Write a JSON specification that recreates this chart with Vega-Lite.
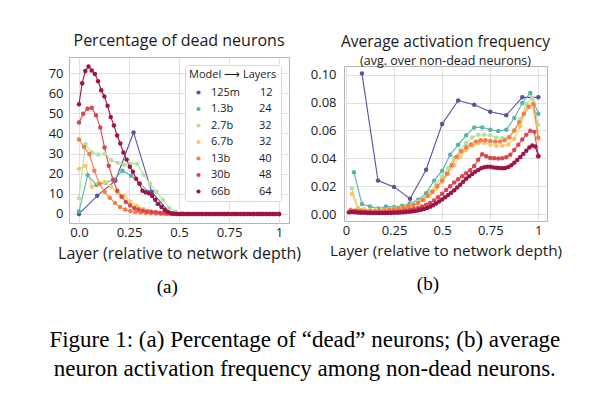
{
  "$schema": "https://vega.github.io/schema/vega-lite/v6.json",
  "background": "white",
  "padding": {"left": 47, "top": 31, "right": 5, "bottom": 5},
  "config": {
    "font": "Open Sans",
    "view": {"stroke": "#b4b4b4", "strokeWidth": 1},
    "axis": {"grid": true, "gridColor": "#e0e0e0", "gridWidth": 1, "domain": false, "ticks": false, "labelFontSize": 13, "labelColor": "#1a1a1a", "titleFontSize": 16, "titleFontWeight": "normal", "titleColor": "#1a1a1a"},
    "axisX": {"labelPadding": 3, "titlePadding": 6},
    "axisY": {"labelPadding": 6}
  },
  "title": {"text": ["Figure 1: (a) Percentage of “dead” neurons; (b) average", "neuron activation frequency among non-dead neurons."], "orient": "bottom", "anchor": "middle", "font": "Liberation Serif", "fontSize": 23, "fontWeight": "normal", "lineHeight": 29, "offset": 32, "color": "black"},
  "resolve": {"scale": {"color": "independent"}, "legend": {"color": "independent"}},
  "datasets": {
    "dead": [
      {"model":"125m","x":0,"y":0},{"model":"125m","x":0.0909,"y":9},{"model":"125m","x":0.1818,"y":16.5},{"model":"125m","x":0.2727,"y":40.5},{"model":"125m","x":0.3636,"y":11},{"model":"125m","x":0.4545,"y":0.5},{"model":"125m","x":0.5455,"y":0},{"model":"125m","x":0.6364,"y":0},{"model":"125m","x":0.7273,"y":0},{"model":"125m","x":0.8182,"y":0},{"model":"125m","x":0.9091,"y":0},{"model":"125m","x":1,"y":0},
      {"model":"1.3b","x":0,"y":1.2},{"model":"1.3b","x":0.0435,"y":19.3},{"model":"1.3b","x":0.087,"y":14.4},{"model":"1.3b","x":0.1304,"y":15.5},{"model":"1.3b","x":0.1739,"y":17},{"model":"1.3b","x":0.2174,"y":21.5},{"model":"1.3b","x":0.2609,"y":19},{"model":"1.3b","x":0.3043,"y":15.3},{"model":"1.3b","x":0.3478,"y":11},{"model":"1.3b","x":0.3913,"y":5},{"model":"1.3b","x":0.4348,"y":1.3},{"model":"1.3b","x":0.4783,"y":0.2},{"model":"1.3b","x":0.5217,"y":0},{"model":"1.3b","x":0.5652,"y":0},{"model":"1.3b","x":0.6087,"y":0},{"model":"1.3b","x":0.6522,"y":0},{"model":"1.3b","x":0.6957,"y":0},{"model":"1.3b","x":0.7391,"y":0},{"model":"1.3b","x":0.7826,"y":0},{"model":"1.3b","x":0.8261,"y":0},{"model":"1.3b","x":0.8696,"y":0},{"model":"1.3b","x":0.913,"y":0},{"model":"1.3b","x":0.9565,"y":0},{"model":"1.3b","x":1,"y":0},
      {"model":"2.7b","x":0,"y":7.8},{"model":"2.7b","x":0.0323,"y":34.7},{"model":"2.7b","x":0.0645,"y":30.5},{"model":"2.7b","x":0.0968,"y":29.5},{"model":"2.7b","x":0.129,"y":29.8},{"model":"2.7b","x":0.1613,"y":26.7},{"model":"2.7b","x":0.1935,"y":25.5},{"model":"2.7b","x":0.2258,"y":24.5},{"model":"2.7b","x":0.2581,"y":25},{"model":"2.7b","x":0.2903,"y":25},{"model":"2.7b","x":0.3226,"y":19.5},{"model":"2.7b","x":0.3548,"y":15},{"model":"2.7b","x":0.3871,"y":11},{"model":"2.7b","x":0.4194,"y":7},{"model":"2.7b","x":0.4516,"y":3},{"model":"2.7b","x":0.4839,"y":1},{"model":"2.7b","x":0.5161,"y":0.2},{"model":"2.7b","x":0.5484,"y":0},{"model":"2.7b","x":0.5806,"y":0},{"model":"2.7b","x":0.6129,"y":0},{"model":"2.7b","x":0.6452,"y":0},{"model":"2.7b","x":0.6774,"y":0},{"model":"2.7b","x":0.7097,"y":0},{"model":"2.7b","x":0.7419,"y":0},{"model":"2.7b","x":0.7742,"y":0},{"model":"2.7b","x":0.8065,"y":0},{"model":"2.7b","x":0.8387,"y":0},{"model":"2.7b","x":0.871,"y":0},{"model":"2.7b","x":0.9032,"y":0},{"model":"2.7b","x":0.9355,"y":0},{"model":"2.7b","x":0.9677,"y":0},{"model":"2.7b","x":1,"y":0},
      {"model":"6.7b","x":0,"y":22.4},{"model":"6.7b","x":0.0323,"y":23.8},{"model":"6.7b","x":0.0645,"y":13.5},{"model":"6.7b","x":0.0968,"y":15.3},{"model":"6.7b","x":0.129,"y":15.7},{"model":"6.7b","x":0.1613,"y":13.5},{"model":"6.7b","x":0.1935,"y":10.5},{"model":"6.7b","x":0.2258,"y":9},{"model":"6.7b","x":0.2581,"y":6},{"model":"6.7b","x":0.2903,"y":4},{"model":"6.7b","x":0.3226,"y":2.5},{"model":"6.7b","x":0.3548,"y":1.5},{"model":"6.7b","x":0.3871,"y":1},{"model":"6.7b","x":0.4194,"y":0.5},{"model":"6.7b","x":0.4516,"y":0.3},{"model":"6.7b","x":0.4839,"y":0.1},{"model":"6.7b","x":0.5161,"y":0},{"model":"6.7b","x":0.5484,"y":0},{"model":"6.7b","x":0.5806,"y":0},{"model":"6.7b","x":0.6129,"y":0},{"model":"6.7b","x":0.6452,"y":0},{"model":"6.7b","x":0.6774,"y":0},{"model":"6.7b","x":0.7097,"y":0},{"model":"6.7b","x":0.7419,"y":0},{"model":"6.7b","x":0.7742,"y":0},{"model":"6.7b","x":0.8065,"y":0},{"model":"6.7b","x":0.8387,"y":0},{"model":"6.7b","x":0.871,"y":0},{"model":"6.7b","x":0.9032,"y":0},{"model":"6.7b","x":0.9355,"y":0},{"model":"6.7b","x":0.9677,"y":0},{"model":"6.7b","x":1,"y":0},
      {"model":"13b","x":0,"y":37},{"model":"13b","x":0.0256,"y":33.3},{"model":"13b","x":0.0513,"y":29.8},{"model":"13b","x":0.0769,"y":21.5},{"model":"13b","x":0.1026,"y":15},{"model":"13b","x":0.1282,"y":11},{"model":"13b","x":0.1538,"y":8},{"model":"13b","x":0.1795,"y":5.5},{"model":"13b","x":0.2051,"y":3.5},{"model":"13b","x":0.2308,"y":2.2},{"model":"13b","x":0.2564,"y":1.5},{"model":"13b","x":0.2821,"y":1},{"model":"13b","x":0.3077,"y":0.7},{"model":"13b","x":0.3333,"y":0.5},{"model":"13b","x":0.359,"y":0.3},{"model":"13b","x":0.3846,"y":0.2},{"model":"13b","x":0.4103,"y":0.1},{"model":"13b","x":0.4359,"y":0},{"model":"13b","x":0.4615,"y":0},{"model":"13b","x":0.4872,"y":0},{"model":"13b","x":0.5128,"y":0},{"model":"13b","x":0.5385,"y":0},{"model":"13b","x":0.5641,"y":0},{"model":"13b","x":0.5897,"y":0},{"model":"13b","x":0.6154,"y":0},{"model":"13b","x":0.641,"y":0},{"model":"13b","x":0.6667,"y":0},{"model":"13b","x":0.6923,"y":0},{"model":"13b","x":0.7179,"y":0},{"model":"13b","x":0.7436,"y":0},{"model":"13b","x":0.7692,"y":0},{"model":"13b","x":0.7949,"y":0},{"model":"13b","x":0.8205,"y":0},{"model":"13b","x":0.8462,"y":0},{"model":"13b","x":0.8718,"y":0},{"model":"13b","x":0.8974,"y":0},{"model":"13b","x":0.9231,"y":0},{"model":"13b","x":0.9487,"y":0},{"model":"13b","x":0.9744,"y":0},{"model":"13b","x":1,"y":0},
      {"model":"30b","x":0,"y":45.4},{"model":"30b","x":0.0213,"y":49.8},{"model":"30b","x":0.0426,"y":52.3},{"model":"30b","x":0.0638,"y":52.8},{"model":"30b","x":0.0851,"y":49},{"model":"30b","x":0.1064,"y":43},{"model":"30b","x":0.1277,"y":33},{"model":"30b","x":0.1489,"y":24},{"model":"30b","x":0.1702,"y":17},{"model":"30b","x":0.1915,"y":11.5},{"model":"30b","x":0.2128,"y":8.5},{"model":"30b","x":0.234,"y":6},{"model":"30b","x":0.2553,"y":4.2},{"model":"30b","x":0.2766,"y":3},{"model":"30b","x":0.2979,"y":2.2},{"model":"30b","x":0.3191,"y":1.6},{"model":"30b","x":0.3404,"y":1.2},{"model":"30b","x":0.3617,"y":1},{"model":"30b","x":0.383,"y":0.8},{"model":"30b","x":0.4043,"y":0.5},{"model":"30b","x":0.4255,"y":0.3},{"model":"30b","x":0.4468,"y":0.2},{"model":"30b","x":0.4681,"y":0.1},{"model":"30b","x":0.4894,"y":0},{"model":"30b","x":0.5106,"y":0},{"model":"30b","x":0.5319,"y":0},{"model":"30b","x":0.5532,"y":0},{"model":"30b","x":0.5745,"y":0},{"model":"30b","x":0.5957,"y":0},{"model":"30b","x":0.617,"y":0},{"model":"30b","x":0.6383,"y":0},{"model":"30b","x":0.6596,"y":0},{"model":"30b","x":0.6809,"y":0},{"model":"30b","x":0.7021,"y":0},{"model":"30b","x":0.7234,"y":0},{"model":"30b","x":0.7447,"y":0},{"model":"30b","x":0.766,"y":0},{"model":"30b","x":0.7872,"y":0},{"model":"30b","x":0.8085,"y":0},{"model":"30b","x":0.8298,"y":0},{"model":"30b","x":0.8511,"y":0},{"model":"30b","x":0.8723,"y":0},{"model":"30b","x":0.8936,"y":0},{"model":"30b","x":0.9149,"y":0},{"model":"30b","x":0.9362,"y":0},{"model":"30b","x":0.9574,"y":0},{"model":"30b","x":0.9787,"y":0},{"model":"30b","x":1,"y":0},
      {"model":"66b","x":0,"y":54.5},{"model":"66b","x":0.0159,"y":65},{"model":"66b","x":0.0317,"y":71},{"model":"66b","x":0.0476,"y":73.3},{"model":"66b","x":0.0635,"y":71.3},{"model":"66b","x":0.0794,"y":69.6},{"model":"66b","x":0.0952,"y":66},{"model":"66b","x":0.1111,"y":61.5},{"model":"66b","x":0.127,"y":58.4},{"model":"66b","x":0.1429,"y":53.8},{"model":"66b","x":0.1587,"y":48.2},{"model":"66b","x":0.1746,"y":44},{"model":"66b","x":0.1905,"y":39},{"model":"66b","x":0.2063,"y":35},{"model":"66b","x":0.2222,"y":30.5},{"model":"66b","x":0.2381,"y":27},{"model":"66b","x":0.254,"y":23.5},{"model":"66b","x":0.2698,"y":21},{"model":"66b","x":0.2857,"y":17.5},{"model":"66b","x":0.3016,"y":15},{"model":"66b","x":0.3175,"y":11.5},{"model":"66b","x":0.3333,"y":10.8},{"model":"66b","x":0.3492,"y":10.3},{"model":"66b","x":0.3651,"y":9},{"model":"66b","x":0.381,"y":7},{"model":"66b","x":0.3968,"y":5},{"model":"66b","x":0.4127,"y":3.5},{"model":"66b","x":0.4286,"y":2},{"model":"66b","x":0.4444,"y":1},{"model":"66b","x":0.4603,"y":0.4},{"model":"66b","x":0.4762,"y":0.1},{"model":"66b","x":0.4921,"y":0},{"model":"66b","x":0.5079,"y":0},{"model":"66b","x":0.5238,"y":0},{"model":"66b","x":0.5397,"y":0},{"model":"66b","x":0.5556,"y":0},{"model":"66b","x":0.5714,"y":0},{"model":"66b","x":0.5873,"y":0},{"model":"66b","x":0.6032,"y":0},{"model":"66b","x":0.619,"y":0},{"model":"66b","x":0.6349,"y":0},{"model":"66b","x":0.6508,"y":0},{"model":"66b","x":0.6667,"y":0},{"model":"66b","x":0.6825,"y":0},{"model":"66b","x":0.6984,"y":0},{"model":"66b","x":0.7143,"y":0},{"model":"66b","x":0.7302,"y":0},{"model":"66b","x":0.746,"y":0},{"model":"66b","x":0.7619,"y":0},{"model":"66b","x":0.7778,"y":0},{"model":"66b","x":0.7937,"y":0},{"model":"66b","x":0.8095,"y":0},{"model":"66b","x":0.8254,"y":0},{"model":"66b","x":0.8413,"y":0},{"model":"66b","x":0.8571,"y":0},{"model":"66b","x":0.873,"y":0},{"model":"66b","x":0.8889,"y":0},{"model":"66b","x":0.9048,"y":0},{"model":"66b","x":0.9206,"y":0},{"model":"66b","x":0.9365,"y":0},{"model":"66b","x":0.9524,"y":0},{"model":"66b","x":0.9683,"y":0},{"model":"66b","x":0.9841,"y":0},{"model":"66b","x":1,"y":0}
    ],
    "freq": [
      {"model":"125m","x":0.0833,"y":0.101},{"model":"125m","x":0.1667,"y":0.024},{"model":"125m","x":0.25,"y":0.0195},{"model":"125m","x":0.3333,"y":0.011},{"model":"125m","x":0.4167,"y":0.0318},{"model":"125m","x":0.5,"y":0.0646},{"model":"125m","x":0.5833,"y":0.0815},{"model":"125m","x":0.6667,"y":0.0785},{"model":"125m","x":0.75,"y":0.0735},{"model":"125m","x":0.8333,"y":0.071},{"model":"125m","x":0.9167,"y":0.0838},{"model":"125m","x":1,"y":0.0838},
      {"model":"1.3b","x":0.0417,"y":0.03},{"model":"1.3b","x":0.0833,"y":0.0072},{"model":"1.3b","x":0.125,"y":0.0055},{"model":"1.3b","x":0.1667,"y":0.004},{"model":"1.3b","x":0.2083,"y":0.0055},{"model":"1.3b","x":0.25,"y":0.005},{"model":"1.3b","x":0.2917,"y":0.006},{"model":"1.3b","x":0.3333,"y":0.0077},{"model":"1.3b","x":0.375,"y":0.0103},{"model":"1.3b","x":0.4167,"y":0.015},{"model":"1.3b","x":0.4583,"y":0.024},{"model":"1.3b","x":0.5,"y":0.031},{"model":"1.3b","x":0.5417,"y":0.0426},{"model":"1.3b","x":0.5833,"y":0.0497},{"model":"1.3b","x":0.625,"y":0.0565},{"model":"1.3b","x":0.6667,"y":0.0622},{"model":"1.3b","x":0.7083,"y":0.0622},{"model":"1.3b","x":0.75,"y":0.0605},{"model":"1.3b","x":0.7917,"y":0.0597},{"model":"1.3b","x":0.8333,"y":0.0605},{"model":"1.3b","x":0.875,"y":0.069},{"model":"1.3b","x":0.9167,"y":0.0797},{"model":"1.3b","x":0.9583,"y":0.0869},{"model":"1.3b","x":1,"y":0.072},
      {"model":"2.7b","x":0.0313,"y":0.0185},{"model":"2.7b","x":0.0625,"y":0.0045},{"model":"2.7b","x":0.0938,"y":0.0035},{"model":"2.7b","x":0.125,"y":0.003},{"model":"2.7b","x":0.1563,"y":0.003},{"model":"2.7b","x":0.1875,"y":0.003},{"model":"2.7b","x":0.2188,"y":0.0035},{"model":"2.7b","x":0.25,"y":0.004},{"model":"2.7b","x":0.2813,"y":0.0045},{"model":"2.7b","x":0.3125,"y":0.0055},{"model":"2.7b","x":0.3438,"y":0.007},{"model":"2.7b","x":0.375,"y":0.009},{"model":"2.7b","x":0.4063,"y":0.012},{"model":"2.7b","x":0.4375,"y":0.016},{"model":"2.7b","x":0.4688,"y":0.021},{"model":"2.7b","x":0.5,"y":0.027},{"model":"2.7b","x":0.5313,"y":0.033},{"model":"2.7b","x":0.5625,"y":0.04},{"model":"2.7b","x":0.5938,"y":0.046},{"model":"2.7b","x":0.625,"y":0.051},{"model":"2.7b","x":0.6563,"y":0.055},{"model":"2.7b","x":0.6875,"y":0.057},{"model":"2.7b","x":0.7188,"y":0.057},{"model":"2.7b","x":0.75,"y":0.0565},{"model":"2.7b","x":0.7813,"y":0.0548},{"model":"2.7b","x":0.8125,"y":0.0545},{"model":"2.7b","x":0.8438,"y":0.0555},{"model":"2.7b","x":0.875,"y":0.06},{"model":"2.7b","x":0.9063,"y":0.068},{"model":"2.7b","x":0.9375,"y":0.079},{"model":"2.7b","x":0.9688,"y":0.083},{"model":"2.7b","x":1,"y":0.064},
      {"model":"6.7b","x":0.0313,"y":0.0145},{"model":"6.7b","x":0.0625,"y":0.004},{"model":"6.7b","x":0.0938,"y":0.003},{"model":"6.7b","x":0.125,"y":0.0025},{"model":"6.7b","x":0.1563,"y":0.0025},{"model":"6.7b","x":0.1875,"y":0.0025},{"model":"6.7b","x":0.2188,"y":0.003},{"model":"6.7b","x":0.25,"y":0.0035},{"model":"6.7b","x":0.2813,"y":0.004},{"model":"6.7b","x":0.3125,"y":0.005},{"model":"6.7b","x":0.3438,"y":0.006},{"model":"6.7b","x":0.375,"y":0.008},{"model":"6.7b","x":0.4063,"y":0.0105},{"model":"6.7b","x":0.4375,"y":0.014},{"model":"6.7b","x":0.4688,"y":0.018},{"model":"6.7b","x":0.5,"y":0.023},{"model":"6.7b","x":0.5313,"y":0.029},{"model":"6.7b","x":0.5625,"y":0.035},{"model":"6.7b","x":0.5938,"y":0.041},{"model":"6.7b","x":0.625,"y":0.046},{"model":"6.7b","x":0.6563,"y":0.049},{"model":"6.7b","x":0.6875,"y":0.051},{"model":"6.7b","x":0.7188,"y":0.051},{"model":"6.7b","x":0.75,"y":0.05},{"model":"6.7b","x":0.7813,"y":0.049},{"model":"6.7b","x":0.8125,"y":0.049},{"model":"6.7b","x":0.8438,"y":0.05},{"model":"6.7b","x":0.875,"y":0.054},{"model":"6.7b","x":0.9063,"y":0.063},{"model":"6.7b","x":0.9375,"y":0.075},{"model":"6.7b","x":0.9688,"y":0.079},{"model":"6.7b","x":1,"y":0.054},
      {"model":"13b","x":0.025,"y":0.003},{"model":"13b","x":0.05,"y":0.0025},{"model":"13b","x":0.075,"y":0.0022},{"model":"13b","x":0.1,"y":0.002},{"model":"13b","x":0.125,"y":0.002},{"model":"13b","x":0.15,"y":0.002},{"model":"13b","x":0.175,"y":0.0022},{"model":"13b","x":0.2,"y":0.0025},{"model":"13b","x":0.225,"y":0.003},{"model":"13b","x":0.25,"y":0.0035},{"model":"13b","x":0.275,"y":0.004},{"model":"13b","x":0.3,"y":0.0045},{"model":"13b","x":0.325,"y":0.0055},{"model":"13b","x":0.35,"y":0.0065},{"model":"13b","x":0.375,"y":0.008},{"model":"13b","x":0.4,"y":0.01},{"model":"13b","x":0.425,"y":0.013},{"model":"13b","x":0.45,"y":0.016},{"model":"13b","x":0.475,"y":0.02},{"model":"13b","x":0.5,"y":0.024},{"model":"13b","x":0.525,"y":0.029},{"model":"13b","x":0.55,"y":0.035},{"model":"13b","x":0.575,"y":0.041},{"model":"13b","x":0.6,"y":0.045},{"model":"13b","x":0.625,"y":0.048},{"model":"13b","x":0.65,"y":0.05},{"model":"13b","x":0.675,"y":0.052},{"model":"13b","x":0.7,"y":0.053},{"model":"13b","x":0.725,"y":0.053},{"model":"13b","x":0.75,"y":0.0525},{"model":"13b","x":0.775,"y":0.052},{"model":"13b","x":0.8,"y":0.052},{"model":"13b","x":0.825,"y":0.053},{"model":"13b","x":0.85,"y":0.055},{"model":"13b","x":0.875,"y":0.06},{"model":"13b","x":0.9,"y":0.066},{"model":"13b","x":0.925,"y":0.072},{"model":"13b","x":0.95,"y":0.077},{"model":"13b","x":0.975,"y":0.079},{"model":"13b","x":1,"y":0.055},
      {"model":"30b","x":0.0208,"y":0.0018},{"model":"30b","x":0.0417,"y":0.0021},{"model":"30b","x":0.0625,"y":0.0019},{"model":"30b","x":0.0833,"y":0.0016},{"model":"30b","x":0.1042,"y":0.0014},{"model":"30b","x":0.125,"y":0.0013},{"model":"30b","x":0.1458,"y":0.0012},{"model":"30b","x":0.1667,"y":0.0012},{"model":"30b","x":0.1875,"y":0.0012},{"model":"30b","x":0.2083,"y":0.0013},{"model":"30b","x":0.2292,"y":0.0014},{"model":"30b","x":0.25,"y":0.0016},{"model":"30b","x":0.2708,"y":0.0018},{"model":"30b","x":0.2917,"y":0.0021},{"model":"30b","x":0.3125,"y":0.0025},{"model":"30b","x":0.3333,"y":0.003},{"model":"30b","x":0.3542,"y":0.0036},{"model":"30b","x":0.375,"y":0.0044},{"model":"30b","x":0.3958,"y":0.0054},{"model":"30b","x":0.4167,"y":0.0066},{"model":"30b","x":0.4375,"y":0.008},{"model":"30b","x":0.4583,"y":0.0098},{"model":"30b","x":0.4792,"y":0.012},{"model":"30b","x":0.5,"y":0.0145},{"model":"30b","x":0.5208,"y":0.0172},{"model":"30b","x":0.5417,"y":0.02},{"model":"30b","x":0.5625,"y":0.0226},{"model":"30b","x":0.5833,"y":0.025},{"model":"30b","x":0.6042,"y":0.0272},{"model":"30b","x":0.625,"y":0.0293},{"model":"30b","x":0.6458,"y":0.0315},{"model":"30b","x":0.6667,"y":0.0345},{"model":"30b","x":0.6875,"y":0.039},{"model":"30b","x":0.7083,"y":0.043},{"model":"30b","x":0.7292,"y":0.0415},{"model":"30b","x":0.75,"y":0.0402},{"model":"30b","x":0.7708,"y":0.04},{"model":"30b","x":0.7917,"y":0.0398},{"model":"30b","x":0.8125,"y":0.04},{"model":"30b","x":0.8333,"y":0.0408},{"model":"30b","x":0.8542,"y":0.0425},{"model":"30b","x":0.875,"y":0.046},{"model":"30b","x":0.8958,"y":0.0497},{"model":"30b","x":0.9167,"y":0.0535},{"model":"30b","x":0.9375,"y":0.057},{"model":"30b","x":0.9583,"y":0.0598},{"model":"30b","x":0.9792,"y":0.059},{"model":"30b","x":1,"y":0.042},
      {"model":"66b","x":0.0156,"y":0.0012},{"model":"66b","x":0.0313,"y":0.0014},{"model":"66b","x":0.0469,"y":0.0013},{"model":"66b","x":0.0625,"y":0.0011},{"model":"66b","x":0.0781,"y":0.001},{"model":"66b","x":0.0938,"y":0.0009},{"model":"66b","x":0.1094,"y":0.0008},{"model":"66b","x":0.125,"y":0.0008},{"model":"66b","x":0.1406,"y":0.0007},{"model":"66b","x":0.1563,"y":0.0007},{"model":"66b","x":0.1719,"y":0.0007},{"model":"66b","x":0.1875,"y":0.0007},{"model":"66b","x":0.2031,"y":0.0007},{"model":"66b","x":0.2188,"y":0.0008},{"model":"66b","x":0.2344,"y":0.0008},{"model":"66b","x":0.25,"y":0.0009},{"model":"66b","x":0.2656,"y":0.001},{"model":"66b","x":0.2813,"y":0.0011},{"model":"66b","x":0.2969,"y":0.0012},{"model":"66b","x":0.3125,"y":0.0014},{"model":"66b","x":0.3281,"y":0.0016},{"model":"66b","x":0.3438,"y":0.0018},{"model":"66b","x":0.3594,"y":0.0021},{"model":"66b","x":0.375,"y":0.0025},{"model":"66b","x":0.3906,"y":0.003},{"model":"66b","x":0.4063,"y":0.0036},{"model":"66b","x":0.4219,"y":0.0043},{"model":"66b","x":0.4375,"y":0.0052},{"model":"66b","x":0.4531,"y":0.0063},{"model":"66b","x":0.4688,"y":0.0076},{"model":"66b","x":0.4844,"y":0.009},{"model":"66b","x":0.5,"y":0.0105},{"model":"66b","x":0.5156,"y":0.012},{"model":"66b","x":0.5313,"y":0.0136},{"model":"66b","x":0.5469,"y":0.0153},{"model":"66b","x":0.5625,"y":0.0171},{"model":"66b","x":0.5781,"y":0.019},{"model":"66b","x":0.5938,"y":0.021},{"model":"66b","x":0.6094,"y":0.0232},{"model":"66b","x":0.625,"y":0.0253},{"model":"66b","x":0.6406,"y":0.0272},{"model":"66b","x":0.6563,"y":0.0288},{"model":"66b","x":0.6719,"y":0.0303},{"model":"66b","x":0.6875,"y":0.0316},{"model":"66b","x":0.7031,"y":0.0328},{"model":"66b","x":0.7188,"y":0.0336},{"model":"66b","x":0.7344,"y":0.034},{"model":"66b","x":0.75,"y":0.0339},{"model":"66b","x":0.7656,"y":0.0335},{"model":"66b","x":0.7813,"y":0.0332},{"model":"66b","x":0.7969,"y":0.033},{"model":"66b","x":0.8125,"y":0.0328},{"model":"66b","x":0.8281,"y":0.033},{"model":"66b","x":0.8438,"y":0.0338},{"model":"66b","x":0.8594,"y":0.035},{"model":"66b","x":0.875,"y":0.0368},{"model":"66b","x":0.8906,"y":0.0388},{"model":"66b","x":0.9063,"y":0.041},{"model":"66b","x":0.9219,"y":0.0432},{"model":"66b","x":0.9375,"y":0.0455},{"model":"66b","x":0.9531,"y":0.0477},{"model":"66b","x":0.9688,"y":0.0492},{"model":"66b","x":0.9844,"y":0.0485},{"model":"66b","x":1,"y":0.0414}
    ]
  },
  "spacing": 8,
  "hconcat": [
    {
      "title": {"text": "(a)", "orient": "bottom", "anchor": "middle", "font": "Liberation Serif", "fontSize": 19, "fontWeight": "normal", "color": "black", "offset": 16, "dx": -7},
      "spacing": 0,
      "resolve": {"scale": {"color": "independent"}, "legend": {"color": "independent"}},
      "vconcat": [
        {"width": 10, "height": 1, "view": {"stroke": null}, "data": {"values": []}, "mark": "point"},
        {
          "width": 220,
          "height": 166,
          "title": {"text": "Percentage of dead neurons", "fontSize": 16, "fontWeight": "normal", "color": "#1a1a1a", "anchor": "middle", "offset": 8},
          "data": {"name": "dead"},
          "encoding": {
            "x": {"field": "x", "type": "quantitative", "scale": {"domain": [-0.05, 1.05], "nice": false, "zero": false}, "axis": {"title": "Layer (relative to network depth)", "values": [0, 0.25, 0.5, 0.75, 1], "labelExpr": "datum.value == 0 ? '0.0' : datum.value == 1 ? '1' : format(datum.value, '~g')"}},
            "y": {"field": "y", "type": "quantitative", "scale": {"domain": [-4.5, 78], "nice": false}, "axis": {"title": null, "values": [0, 10, 20, 30, 40, 50, 60, 70]}}
          },
          "layer": [
            {"mark": {"type": "line", "strokeWidth": 1.1}, "encoding": {"stroke": {"field": "model", "type": "nominal", "scale": {"domain": ["125m", "1.3b", "2.7b", "6.7b", "13b", "30b", "66b"], "range": ["#5e4fa2", "#5cb1ac", "#b4e0a0", "#fdc65f", "#f47d4c", "#d7474f", "#9e1447"]}, "legend": null}}},
            {"mark": {"type": "circle", "size": 20, "opacity": 1}, "encoding": {"color": {"field": "model", "type": "nominal", "scale": {"domain": ["125m", "1.3b", "2.7b", "6.7b", "13b", "30b", "66b"], "range": ["#5e4fa2", "#5cb1ac", "#b4e0a0", "#fdc65f", "#f47d4c", "#d7474f", "#9e1447"]}, "legend": {"title": "Model ⟶ Layers", "orient": "top-right", "offset": 8, "padding": 4, "fillColor": "white", "strokeColor": "#d6d6d6", "cornerRadius": 3, "titleFont": "Open Sans", "titleFontSize": 11, "titleFontWeight": "normal", "titleColor": "#1a1a1a", "labelFont": "Open Sans", "labelFontSize": 11, "labelColor": "#1a1a1a", "symbolType": "circle", "symbolSize": 18, "symbolOffset": 4, "labelOffset": 7, "rowPadding": 4.5, "titlePadding": 7, "labelExpr": "datum.label + (datum.label == '125m' ? '\u00a0\u00a0\u00a0\u00a0\u00a0\u00a0\u00a012' : datum.label == '1.3b' ? '\u00a0\u00a0\u00a0\u00a0\u00a0\u00a0\u00a0\u00a0\u00a024' : datum.label == '2.7b' ? '\u00a0\u00a0\u00a0\u00a0\u00a0\u00a0\u00a0\u00a0\u00a032' : datum.label == '6.7b' ? '\u00a0\u00a0\u00a0\u00a0\u00a0\u00a0\u00a0\u00a0\u00a032' : datum.label == '13b' ? '\u00a0\u00a0\u00a0\u00a0\u00a0\u00a0\u00a0\u00a0\u00a0\u00a040' : datum.label == '30b' ? '\u00a0\u00a0\u00a0\u00a0\u00a0\u00a0\u00a0\u00a0\u00a0\u00a048' : '\u00a0\u00a0\u00a0\u00a0\u00a0\u00a0\u00a0\u00a0\u00a0\u00a064')"}}}}
          ]
        }
      ]
    },
    {
      "title": {"text": "(b)", "orient": "bottom", "anchor": "middle", "font": "Liberation Serif", "fontSize": 19, "fontWeight": "normal", "color": "black", "offset": 16, "dx": -8},
      "spacing": 0,
      "resolve": {"scale": {"color": "independent"}, "legend": {"color": "independent"}},
      "vconcat": [
        {"width": 10, "height": 3, "view": {"stroke": null}, "data": {"values": []}, "mark": "point"},
        {
          "width": 203,
          "height": 155,
          "title": {"text": "Average activation frequency", "subtitle": "(avg. over non-dead neurons)", "fontSize": 15.5, "subtitleFontSize": 12.5, "subtitleFont": "Open Sans", "subtitleColor": "#1a1a1a", "subtitlePadding": 4, "fontWeight": "normal", "color": "#1a1a1a", "anchor": "middle", "offset": -1},
          "data": {"name": "freq"},
          "encoding": {
            "x": {"field": "x", "type": "quantitative", "scale": {"domain": [-0.01, 1.045], "nice": false, "zero": false}, "axis": {"title": "Layer (relative to network depth)", "titleFontSize": 15.3, "values": [0, 0.25, 0.5, 0.75, 1], "labelExpr": "format(datum.value, '~g')"}},
            "y": {"field": "y", "type": "quantitative", "scale": {"domain": [-0.005, 0.1063], "nice": false}, "axis": {"title": null, "labelPadding": 8, "values": [0, 0.02, 0.04, 0.06, 0.08, 0.1], "format": ".2f"}},
            "color": {"field": "model", "type": "nominal", "scale": {"domain": ["125m", "1.3b", "2.7b", "6.7b", "13b", "30b", "66b"], "range": ["#5e4fa2", "#5cb1ac", "#b4e0a0", "#fdc65f", "#f47d4c", "#d7474f", "#9e1447"]}, "legend": null}
          },
          "layer": [
            {"mark": {"type": "line", "strokeWidth": 1.1}},
            {"mark": {"type": "circle", "size": 20, "opacity": 1}}
          ]
        }
      ]
    }
  ]
}
